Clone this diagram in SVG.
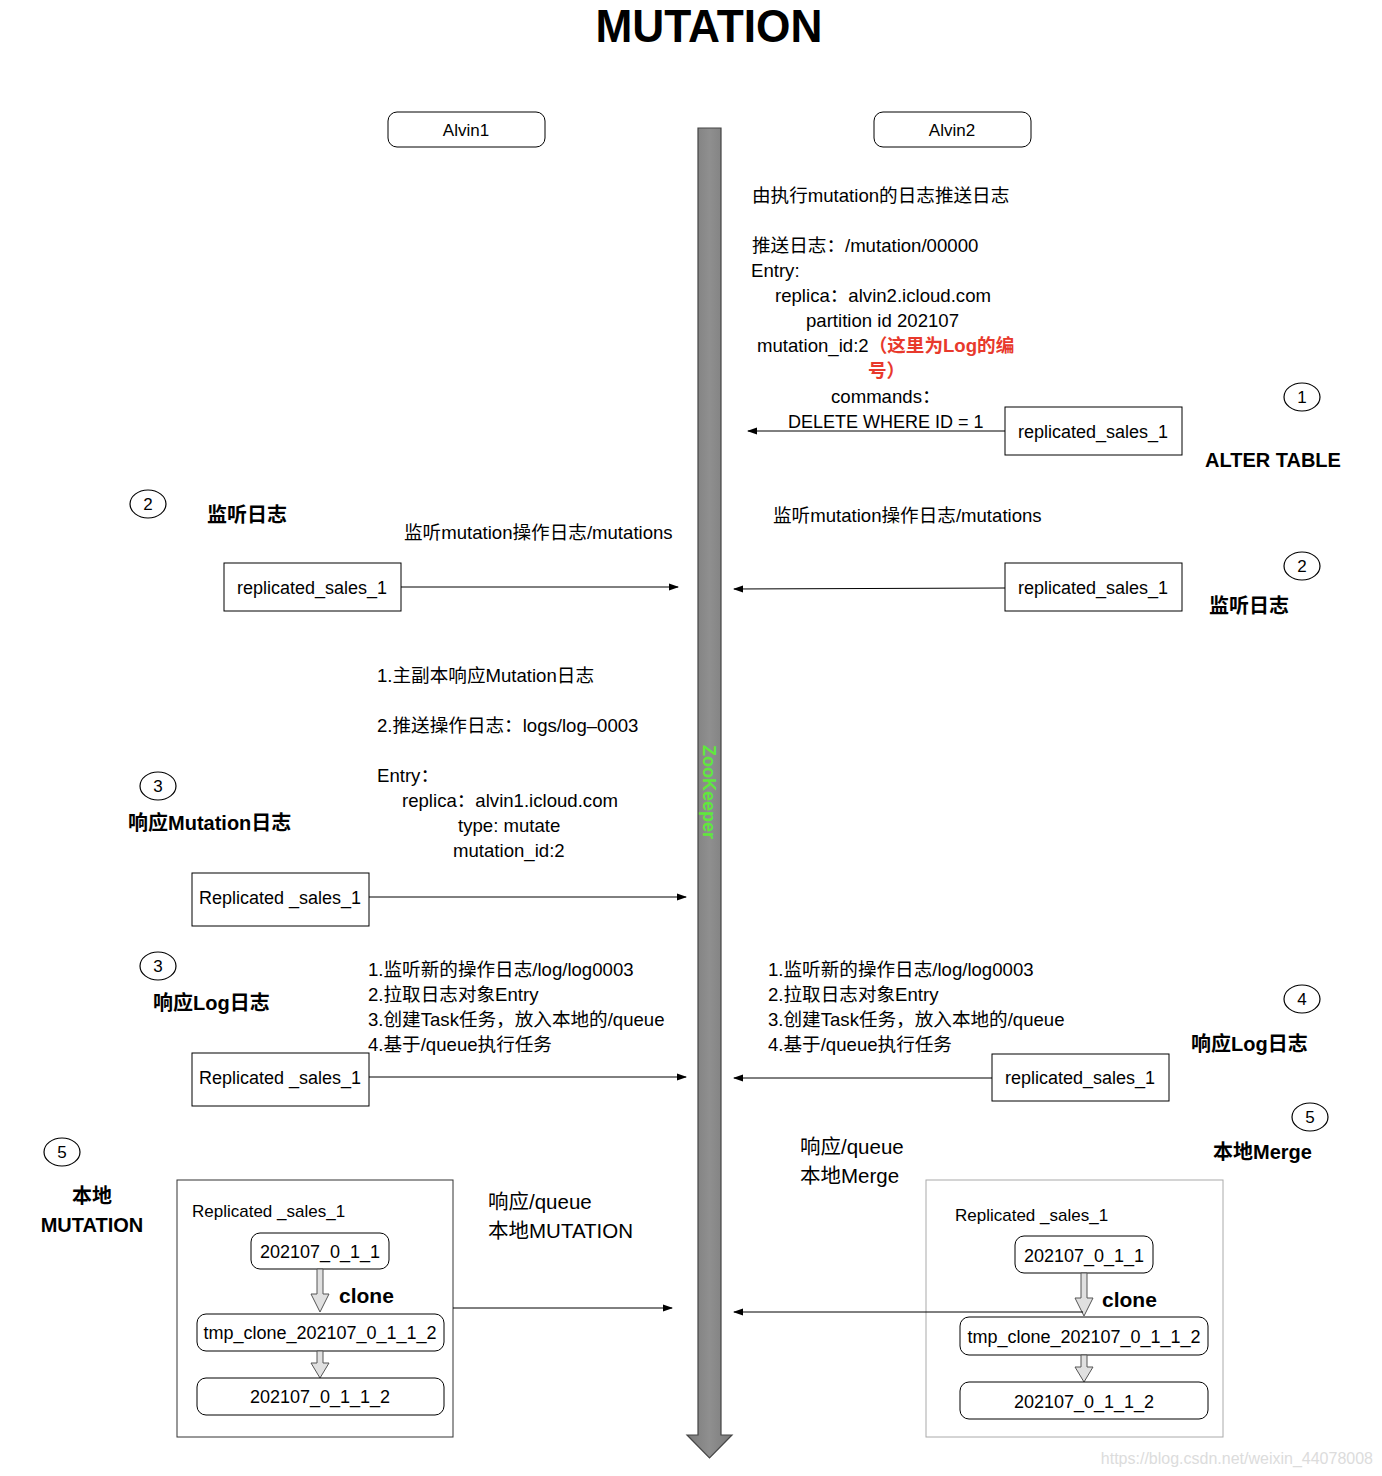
<svg xmlns="http://www.w3.org/2000/svg" width="1382" height="1476" viewBox="0 0 1382 1476">
<style>
text{font-family:"Liberation Sans","Noto Sans CJK SC",sans-serif;fill:#000}
.t{font-size:18px}
.p{font-size:18.6px}
.b{font-size:20px;font-weight:bold}
.c{font-size:17px}
.mid{text-anchor:middle}
.box{fill:#fff;stroke:#000;stroke-width:1}
.rbox{fill:#fff;stroke:#000;stroke-width:1}
.num{fill:#fff;stroke:#000;stroke-width:1.2}
.conn{stroke:#000;stroke-width:1;fill:none;marker-end:url(#ah)}
.blk{fill:#e0e0e0;stroke:#555;stroke-width:1}
.red{fill:#e8392c;font-weight:bold}
</style>
<defs>
<marker id="ah" markerWidth="10" markerHeight="8" refX="9" refY="4" orient="auto" markerUnits="userSpaceOnUse">
<path d="M0,0.5 L10,4 L0,7.5 Z" fill="#000"/>
</marker>
<linearGradient id="zg" x1="0" y1="0" x2="1" y2="0">
<stop offset="0" stop-color="#7a7a7a"/>
<stop offset="0.5" stop-color="#8f8f8f"/>
<stop offset="1" stop-color="#7a7a7a"/>
</linearGradient>
</defs>
<rect width="1382" height="1476" fill="#fff"/>

<text x="709" y="42" text-anchor="middle" font-size="46" font-weight="bold" textLength="227" lengthAdjust="spacingAndGlyphs">MUTATION</text>

<g id="zookeeper">
<polygon points="698,128 721,128 721,1435 732,1435 709.5,1458 687,1435 698,1435" fill="url(#zg)" stroke="#444" stroke-width="1.2"/>
<text transform="translate(703,792) rotate(90)" text-anchor="middle" font-size="18" font-weight="bold" style="fill:#5fe83c">ZooKeeper</text>
</g>

<g id="alvin1">
<rect x="388" y="112" width="157" height="35" rx="9" class="rbox"/>
<text x="466" y="136" class="c mid">Alvin1</text>
</g>
<g id="alvin2">
<rect x="874" y="112" width="157" height="35" rx="9" class="rbox"/>
<text x="952" y="136" class="c mid">Alvin2</text>
</g>

<g id="step1-text">
<text x="752" y="202" class="p">由执行mutation的日志推送日志</text>
<text x="752" y="252" class="p">推送日志：/mutation/00000</text>
<text x="751" y="277" class="p">Entry:</text>
<text x="775" y="302" class="p">replica：alvin2.icloud.com</text>
<text x="806" y="327" class="p">partition id 202107</text>
<text x="757" y="352" class="p">mutation_id:2<tspan class="red">（这里为Log的编</tspan></text>
<text x="868" y="377" class="p red">号）</text>
<text x="831" y="403" class="p">commands：</text>
<text x="788" y="428" class="t">DELETE WHERE ID = 1</text>
</g>

<g id="node-r1">
<rect x="1005" y="407" width="177" height="48" class="box"/>
<text x="1093" y="438" class="t mid">replicated_sales_1</text>
</g>
<g id="badge-r1">
<ellipse cx="1302" cy="397" rx="18" ry="14" class="num"/>
<text x="1302" y="403" class="c mid">1</text>
<text x="1205" y="467" class="b">ALTER TABLE</text>
</g>

<g id="badge-l2">
<ellipse cx="148" cy="504" rx="18" ry="14" class="num"/>
<text x="148" y="510" class="c mid">2</text>
<text x="207" y="522" class="b">监听日志</text>
</g>
<text x="404" y="539" class="p">监听mutation操作日志/mutations</text>
<g id="node-l2">
<rect x="224" y="563" width="177" height="48" class="box"/>
<text x="312" y="594" class="t mid">replicated_sales_1</text>
</g>

<text x="773" y="522" class="p">监听mutation操作日志/mutations</text>
<g id="node-r2">
<rect x="1005" y="563" width="177" height="48" class="box"/>
<text x="1093" y="594" class="t mid">replicated_sales_1</text>
</g>
<g id="badge-r2">
<ellipse cx="1302" cy="566" rx="18" ry="14" class="num"/>
<text x="1302" y="572" class="c mid">2</text>
<text x="1209" y="613" class="b">监听日志</text>
</g>

<g id="step3-text">
<text x="377" y="682" class="p">1.主副本响应Mutation日志</text>
<text x="377" y="732" class="p">2.推送操作日志：logs/log–0003</text>
<text x="377" y="782" class="p">Entry：</text>
<text x="402" y="807" class="p">replica：alvin1.icloud.com</text>
<text x="458" y="832" class="p">type: mutate</text>
<text x="453" y="857" class="p">mutation_id:2</text>
</g>
<g id="badge-l3a">
<ellipse cx="158" cy="786" rx="18" ry="14" class="num"/>
<text x="158" y="792" class="c mid">3</text>
<text x="128" y="830" class="b">响应Mutation日志</text>
</g>
<g id="node-l3a">
<rect x="192" y="873" width="177" height="53" class="box"/>
<text x="280" y="904" class="t mid">Replicated _sales_1</text>
</g>

<g id="badge-l3b">
<ellipse cx="158" cy="966" rx="18" ry="14" class="num"/>
<text x="158" y="972" class="c mid">3</text>
<text x="153" y="1010" class="b">响应Log日志</text>
</g>
<g id="step3b-text">
<text x="368" y="976" class="p">1.监听新的操作日志/log/log0003</text>
<text x="368" y="1001" class="p">2.拉取日志对象Entry</text>
<text x="368" y="1026" class="p">3.创建Task任务，放入本地的/queue</text>
<text x="368" y="1051" class="p">4.基于/queue执行任务</text>
</g>
<g id="node-l3b">
<rect x="192" y="1053" width="177" height="53" class="box"/>
<text x="280" y="1084" class="t mid">Replicated _sales_1</text>
</g>

<g id="step4-text">
<text x="768" y="976" class="p">1.监听新的操作日志/log/log0003</text>
<text x="768" y="1001" class="p">2.拉取日志对象Entry</text>
<text x="768" y="1026" class="p">3.创建Task任务，放入本地的/queue</text>
<text x="768" y="1051" class="p">4.基于/queue执行任务</text>
</g>
<g id="badge-r4">
<ellipse cx="1302" cy="999" rx="18" ry="14" class="num"/>
<text x="1302" y="1005" class="c mid">4</text>
<text x="1191" y="1051" class="b">响应Log日志</text>
</g>
<g id="node-r4">
<rect x="992" y="1054" width="177" height="47" class="box"/>
<text x="1080" y="1084" class="t mid">replicated_sales_1</text>
</g>

<g id="badge-r5">
<ellipse cx="1310" cy="1117" rx="18" ry="14" class="num"/>
<text x="1310" y="1123" class="c mid">5</text>
<text x="1213" y="1159" class="b">本地Merge</text>
</g>
<text x="800" y="1154" font-size="20.5">响应/queue</text>
<text x="800" y="1183" font-size="20.5">本地Merge</text>

<g id="badge-l5">
<ellipse cx="62" cy="1152" rx="18" ry="14" class="num"/>
<text x="62" y="1158" class="c mid">5</text>
<text x="92" y="1203" class="b mid">本地</text>
<text x="92" y="1232" class="b mid">MUTATION</text>
</g>
<text x="488" y="1209" font-size="20.5">响应/queue</text>
<text x="488" y="1238" font-size="20.5">本地MUTATION</text>

<g id="local-mutation">
<rect x="177" y="1180" width="276" height="257" fill="#fff" stroke="#333" stroke-width="1"/>
<text x="192" y="1217" class="c">Replicated _sales_1</text>
<rect x="251" y="1233" width="138" height="36" rx="9" class="rbox"/>
<text x="320" y="1258" class="t mid">202107_0_1_1</text>
<path d="M317,1269 L323,1269 L323,1294 L329,1294 L320,1312 L311,1294 L317,1294 Z" class="blk"/>
<text x="339" y="1303" font-size="21" font-weight="bold">clone</text>
<rect x="197" y="1314" width="247" height="37" rx="9" class="rbox"/>
<text x="320" y="1339" class="t mid">tmp_clone_202107_0_1_1_2</text>
<path d="M317,1351 L323,1351 L323,1363 L329,1363 L320,1378 L311,1363 L317,1363 Z" class="blk"/>
<rect x="197" y="1378" width="247" height="37" rx="9" class="rbox"/>
<text x="320" y="1403" class="t mid">202107_0_1_1_2</text>
</g>

<g id="local-merge">
<rect x="926" y="1180" width="297" height="257" fill="#fff" stroke="#aaa" stroke-width="1"/>
<text x="955" y="1221" class="c">Replicated _sales_1</text>
<rect x="1015" y="1236" width="138" height="37" rx="9" class="rbox"/>
<text x="1084" y="1262" class="t mid">202107_0_1_1</text>
<path d="M1081,1273 L1087,1273 L1087,1298 L1093,1298 L1084,1316 L1075,1298 L1081,1298 Z" class="blk"/>
<text x="1102" y="1307" font-size="21" font-weight="bold">clone</text>
<rect x="960" y="1317" width="248" height="38" rx="9" class="rbox"/>
<text x="1084" y="1343" class="t mid">tmp_clone_202107_0_1_1_2</text>
<path d="M1081,1355 L1087,1355 L1087,1367 L1093,1367 L1084,1382 L1075,1367 L1081,1367 Z" class="blk"/>
<rect x="960" y="1382" width="248" height="37" rx="9" class="rbox"/>
<text x="1084" y="1408" class="t mid">202107_0_1_1_2</text>
</g>

<g id="connectors">
<line x1="1005" y1="431" x2="748" y2="431" class="conn"/>
<line x1="401" y1="587" x2="678" y2="587" class="conn"/>
<line x1="1005" y1="588" x2="734" y2="589" class="conn"/>
<line x1="369" y1="897" x2="686" y2="897" class="conn"/>
<line x1="369" y1="1077" x2="686" y2="1077" class="conn"/>
<line x1="992" y1="1078" x2="734" y2="1078" class="conn"/>
<line x1="453" y1="1308" x2="672" y2="1308" class="conn"/>
<line x1="1083" y1="1312" x2="734" y2="1312" class="conn"/>
</g>

<text x="1373" y="1464" text-anchor="end" font-size="16" style="fill:#dcdcdc">https://blog.csdn.net/weixin_44078008</text>
</svg>
